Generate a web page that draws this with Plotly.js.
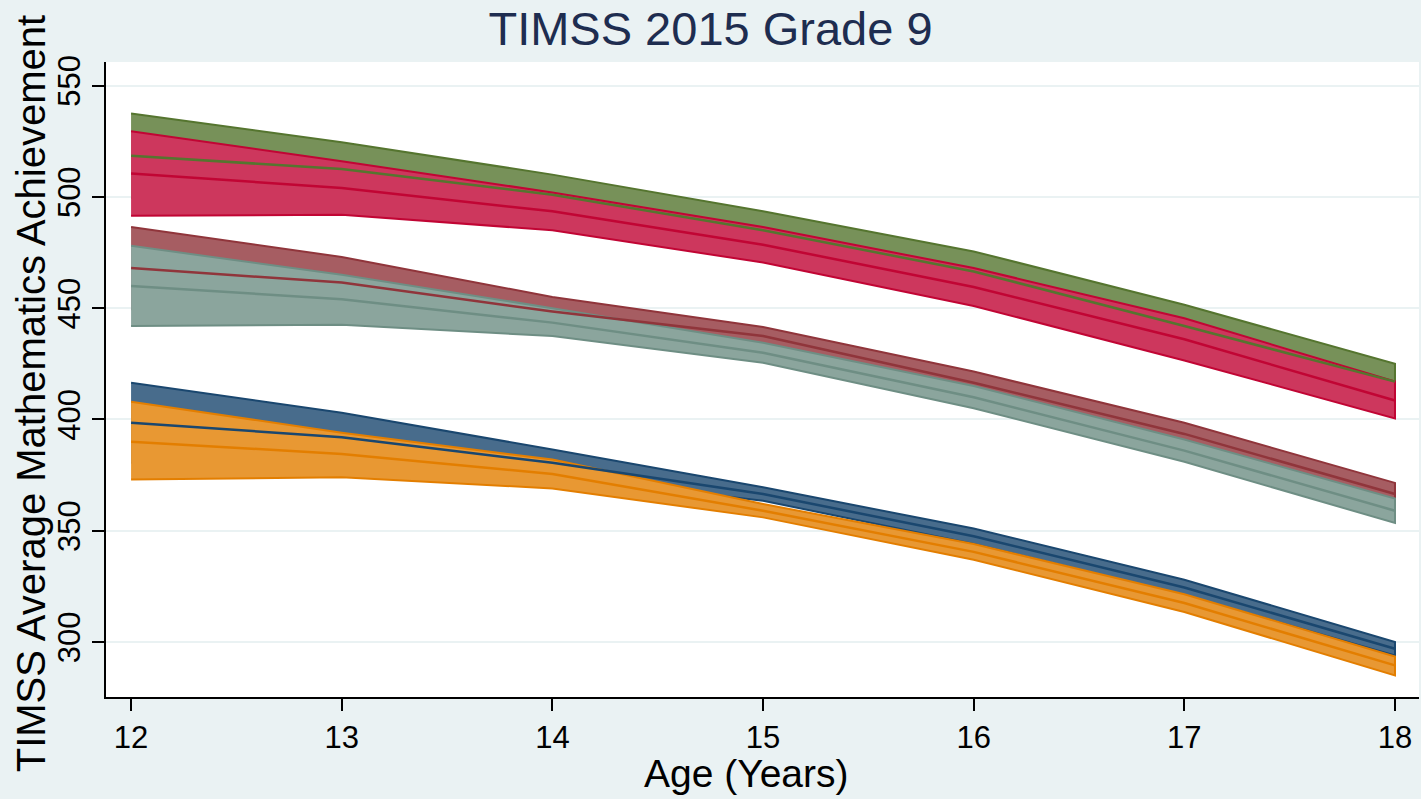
<!DOCTYPE html>
<html>
<head>
<meta charset="utf-8">
<script src="https://cdn.plot.ly/plotly-3.0.1.min.js"></script>
<style>
  html, body { margin: 0; padding: 0; background: #eaf2f3; }
  #chart { width: 1421px; height: 799px; }
</style>
</head>
<body>
<div id="chart"></div>
<script>
// ages on the x axis
const ages = [12, 13, 14, 15, 16, 17, 18];

// upper bound / mean / lower bound of each band
const greenHi = [537.5, 524.5, 510, 493.5, 475.5, 451.5, 425];
const greenMean = [518.5, 512.5, 501, 485, 466.5, 442, 417];
const greenLo = [499.5, 500.5, 492, 476.5, 457.5, 432.5, 409];

const redHi = [529.5, 516, 502, 486.5, 468, 445.5, 417];
const redMean = [510.5, 504, 493.5, 478.5, 459.5, 436, 408.5];
const redLo = [491.5, 492, 485, 470.5, 451, 426.5, 400.5];

const maroonHi = [486.5, 473, 455, 441.5, 421.5, 398.5, 371.5];
const maroonMean = [468, 461.5, 448.5, 437.5, 416.5, 393.5, 366.5];
const maroonLo = [449.5, 450, 442, 433.5, 411.5, 388.5, 361.5];

const tealHi = [478, 465, 450, 434.5, 415, 391, 364.5];
const tealMean = [460, 454, 443.5, 430, 410, 386, 359];
const tealLo = [442, 442.5, 437.5, 425.5, 405, 381, 353.5];

const navyHi = [416.5, 403, 386.5, 369.5, 351, 328, 300];
const navyMean = [398.5, 392, 380.5, 366.5, 347.5, 324.5, 297];
const navyLo = [380.5, 381, 374.5, 363.5, 344, 321, 294];

const orangeHi = [408, 394, 382, 362, 344, 321.5, 293.5];
const orangeMean = [390, 384.5, 375.5, 359, 340.5, 317.5, 289.5];
const orangeLo = [373, 374, 369, 356, 337, 313.5, 285];

const yTicks = [300, 350, 400, 450, 500, 550];

// stata-ish colours: line colour and 80% intensity fill
const groups = [
  { hi: greenHi, mean: greenMean, lo: greenLo, line: "rgb(85,117,47)", fill: "rgb(119,145,89)" },
  { hi: redHi, mean: redMean, lo: redLo, line: "rgb(193,5,52)", fill: "rgb(205,55,93)" },
  { hi: maroonHi, mean: maroonMean, lo: maroonLo, line: "rgb(144,53,59)", fill: "rgb(166,93,98)" },
  { hi: tealHi, mean: tealMean, lo: tealLo, line: "rgb(110,142,132)", fill: "rgb(139,165,157)" },
  { hi: navyHi, mean: navyMean, lo: navyLo, line: "rgb(26,71,111)", fill: "rgb(72,108,140)" },
  { hi: orangeHi, mean: orangeMean, lo: orangeLo, line: "rgb(227,126,0)", fill: "rgb(232,152,51)" },
];

const data = [];

// bands first (closed polygons)
groups.forEach((g) => {
  data.push({
    x: ages.concat(ages.slice().reverse()),
    y: g.hi.concat(g.lo.slice().reverse()),
    type: "scatter",
    mode: "lines",
    fill: "toself",
    fillcolor: g.fill,
    line: { color: g.line, width: 2 },
    hoverinfo: "skip",
    showlegend: false,
  });
});

// then the mean lines on top
groups.forEach((g) => {
  data.push({
    x: ages,
    y: g.mean,
    type: "scatter",
    mode: "lines",
    line: { color: g.line, width: 2.5 },
    showlegend: false,
  });
});

const fontFam = "Liberation Sans, Arial, sans-serif";
const tickFont = { family: fontFam, size: 31, color: "#000" };

const layout = {
  width: 1421,
  height: 799,
  paper_bgcolor: "#eaf2f3",
  plot_bgcolor: "#ffffff",
  margin: { l: 106, r: 2, t: 62, b: 102 },
  font: { family: fontFam },
  title: {
    text: "TIMSS 2015 Grade 9",
    font: { family: fontFam, size: 47, color: "#1e2d50" },
    x: 0.5,
    xref: "container",
    y: 0.964,
    yref: "container",
    yanchor: "middle",
  },
  xaxis: {
    range: [11.881, 18.114],
    tickvals: ages,
    ticks: "outside",
    ticklen: 12,
    tickwidth: 2,
    tickcolor: "#000",
    showline: true,
    linecolor: "#000",
    linewidth: 2,
    showgrid: false,
    zeroline: false,
    tickfont: tickFont,
  },
  yaxis: {
    range: [275.3, 560.6],
    tickvals: yTicks,
    tickangle: -90,
    ticks: "outside",
    ticklen: 12,
    tickwidth: 2,
    tickcolor: "#000",
    showline: true,
    linecolor: "#000",
    linewidth: 2,
    showgrid: true,
    gridcolor: "#eaf2f3",
    gridwidth: 2,
    zeroline: false,
    tickfont: tickFont,
  },
  // axis titles as annotations so they sit where the original has them
  annotations: [
    {
      text: "Age (Years)",
      xref: "paper", yref: "paper",
      x: 0.488, y: -0.121,
      xanchor: "center", yanchor: "middle",
      showarrow: false,
      font: { family: fontFam, size: 39, color: "#000" },
    },
    {
      text: "TIMSS Average Mathematics Achievement",
      xref: "paper", yref: "paper",
      x: -0.057, y: 0.477,
      xanchor: "center", yanchor: "middle",
      textangle: -90,
      showarrow: false,
      font: { family: fontFam, size: 40, color: "#000" },
    },
  ],
};

Plotly.newPlot("chart", data, layout, { displayModeBar: false, staticPlot: true });
</script>
</body>
</html>
